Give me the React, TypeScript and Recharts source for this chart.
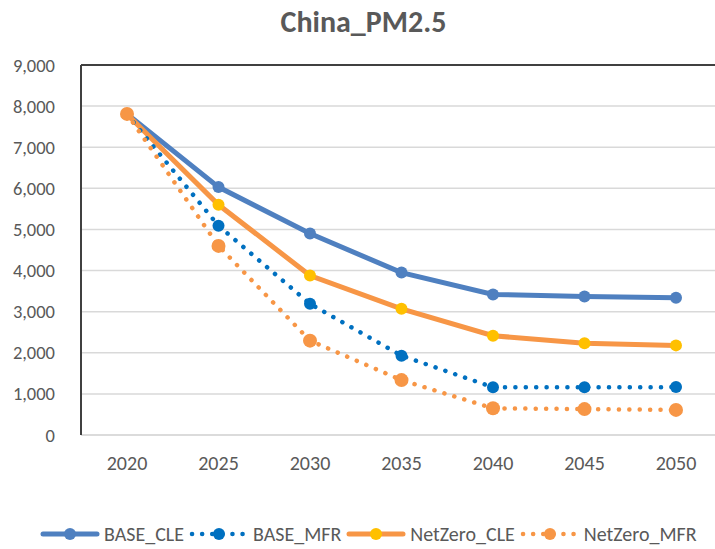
import React from "react";
import { LineChart, Line, XAxis, YAxis, CartesianGrid, ReferenceLine } from "recharts";

const years = ["2020", "2025", "2030", "2035", "2040", "2045", "2050"];
const baseCle = [7810, 6030, 4900, 3950, 3420, 3370, 3340];
const baseMfr = [7800, 5090, 3190, 1930, 1160, 1160, 1165];
const netZeroCle = [7800, 5600, 3880, 3070, 2415, 2230, 2180];
const netZeroMfr = [7810, 4600, 2295, 1335, 650, 630, 610];
const yTicks = [0, 1000, 2000, 3000, 4000, 5000, 6000, 7000, 8000, 9000];

const FONT = "Carlito, 'Liberation Sans Narrow', 'DejaVu Sans Condensed', sans-serif";

const C_BASE_CLE = "#4F80C0";
const C_BASE_MFR = "#0070C0";
const C_NZ = "#F79646";
const C_NZ_MARK = "#FFC000";

const rows = years.map((y, i) => ({
  year: y,
  BASE_CLE: baseCle[i],
  BASE_MFR: baseMfr[i],
  NetZero_CLE: netZeroCle[i],
  NetZero_MFR: netZeroMfr[i],
}));

const dot = (fill: string, r: number) => (p: any) => (
  <circle key={`${p.dataKey}-${p.index}`} cx={p.cx} cy={p.cy} r={r} fill={fill} stroke="none" />
);

const legendItems = [
  { name: "BASE_CLE", color: C_BASE_CLE, mark: C_BASE_CLE, dotted: false },
  { name: "BASE_MFR", color: C_BASE_MFR, mark: C_BASE_MFR, dotted: true },
  { name: "NetZero_CLE", color: C_NZ, mark: C_NZ_MARK, dotted: false },
  { name: "NetZero_MFR", color: C_NZ, mark: C_NZ, dotted: true },
];

function LegendRow() {
  return (
    <div style={{ position: "absolute", left: 40, top: 522, display: "flex", alignItems: "center", fontFamily: FONT, fontSize: 20, color: "#595959" }}>
      {legendItems.map((it) => (
        <div key={it.name} style={{ display: "flex", alignItems: "center", marginRight: 5 }}>
          <svg width={60} height={20}>
            <line x1={3} x2={57} y1={10} y2={10} stroke={it.color} strokeWidth={it.dotted ? 4.5 : 5}
              strokeLinecap="round" strokeDasharray={it.dotted ? "0.1 10" : undefined} />
            <circle cx={30} cy={10} r={6} fill={it.mark} />
          </svg>
          <span style={{ marginLeft: 4 }}>{it.name}</span>
        </div>
      ))}
    </div>
  );
}

export default function App() {
  return (
    <div style={{ position: "fixed", left: 0, top: 0, width: 715, height: 549, overflow: "hidden", background: "#fff" }}>
      <div style={{ position: "absolute", left: 0, top: 3, width: 727, textAlign: "center", fontFamily: FONT, fontSize: 30, fontWeight: 700, color: "#595959" }}>
        China_PM2.5
      </div>
      <LineChart width={735} height={549} data={rows} margin={{ top: 65, right: 13, left: 0, bottom: 74 }}
        style={{ position: "absolute", left: 0, top: 0 }}>
        <CartesianGrid vertical={false} stroke="#D9D9D9" strokeWidth={1.5} />
        <XAxis dataKey="year" padding={{ left: 46, right: 46 }} tickLine={false}
          axisLine={{ stroke: "#D9D9D9", strokeWidth: 1.5 }} height={40} tickMargin={15}
          tick={{ fill: "#595959", fontSize: 20, fontFamily: FONT }} />
        <YAxis width={81} domain={[0, 9000]} ticks={yTicks} tickLine={false}
          axisLine={{ stroke: "#404040", strokeWidth: 2 }} tickMargin={20}
          tickFormatter={(v: number) => v.toLocaleString("en-US")}
          tick={{ fill: "#595959", fontSize: 18.5, fontFamily: FONT }} />
        <ReferenceLine y={9000} stroke="#404040" strokeWidth={2} />
        <Line dataKey="BASE_CLE" stroke={C_BASE_CLE} strokeWidth={5} dot={dot(C_BASE_CLE, 6)} isAnimationActive={false} />
        <Line dataKey="NetZero_CLE" stroke={C_NZ} strokeWidth={5} dot={dot(C_NZ_MARK, 6)} isAnimationActive={false} />
        <Line dataKey="BASE_MFR" stroke={C_BASE_MFR} strokeWidth={4.5} strokeLinecap="round" strokeDasharray="0.1 10.3"
          dot={dot(C_BASE_MFR, 6)} isAnimationActive={false} />
        <Line dataKey="NetZero_MFR" stroke={C_NZ} strokeWidth={4.5} strokeLinecap="round" strokeDasharray="0.1 10.3"
          dot={dot(C_NZ, 7)} isAnimationActive={false} />
      </LineChart>
      <LegendRow />
    </div>
  );
}
